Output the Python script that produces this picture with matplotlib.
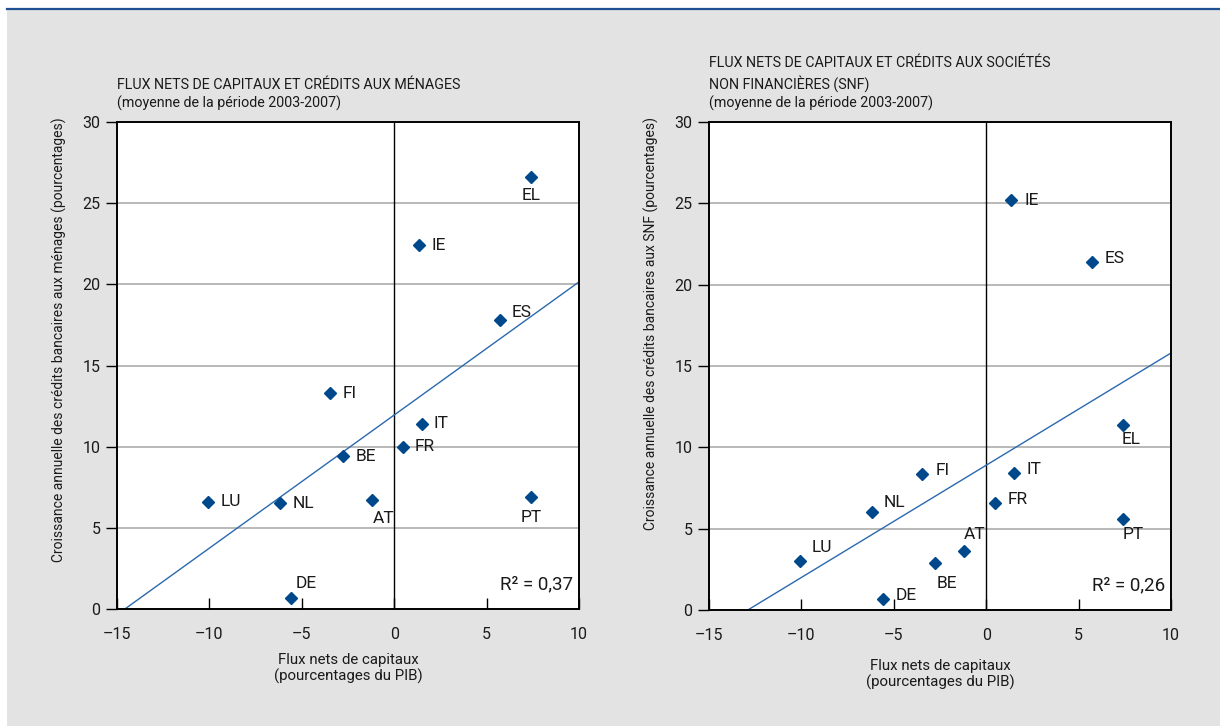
import numpy as np
import matplotlib.pyplot as plt
from matplotlib.patches import Rectangle
from matplotlib.lines import Line2D

plt.rcParams['font.family'] = ['Roboto', 'DejaVu Sans']

# Data
countries = ['LU', 'NL', 'DE', 'FI', 'BE', 'AT', 'FR', 'IE', 'IT', 'ES', 'EL', 'PT']
flux_nets = [-10.1, -6.2, -5.6, -3.45, -2.75, -1.2, 0.45, 1.35, 1.5, 5.7, 7.4, 7.4]
credit_menages = [6.6, 6.5, 0.7, 13.3, 9.4, 6.7, 10.0, 22.4, 11.4, 17.8, 26.6, 6.9]
credit_snf = [3.0, 6.0, 0.7, 8.35, 2.9, 3.6, 6.6, 25.2, 8.4, 21.4, 11.4, 5.6]

# fitted lines (intercept, slope) and R2 as shown
fit_menages = (11.95, 0.82)
fit_snf = (8.9, 0.69)
r2_menages = '0,37'
r2_snf = '0,26'

xticks = [-15, -10, -5, 0, 5, 10]
xtick_labels = ['–15', '–10', '–5', '0', '5', '10']
yticks = [0, 5, 10, 15, 20, 25, 30]

# label offsets in pixels (dx, dy, ha, va)
offs_menages = {
    'LU': (13, 0, 'left', 'center'), 'NL': (13, 0, 'left', 'center'),
    'DE': (5, 14, 'left', 'center'), 'FI': (12, 0, 'left', 'center'),
    'BE': (12, 0, 'left', 'center'), 'AT': (1, -18, 'left', 'center'),
    'FR': (12, 0, 'left', 'center'), 'IE': (12, 0, 'left', 'center'),
    'IT': (12, 0, 'left', 'center'), 'ES': (12, 8, 'left', 'center'),
    'EL': (0, -18, 'center', 'center'), 'PT': (0, -21, 'center', 'center'),
}
offs_snf = {
    'LU': (12, 14, 'left', 'center'), 'NL': (12, 10, 'left', 'center'),
    'DE': (13, 3, 'left', 'center'), 'FI': (13, 4, 'left', 'center'),
    'BE': (1, -21, 'left', 'center'), 'AT': (0, 17, 'left', 'center'),
    'FR': (13, 3, 'left', 'center'), 'IE': (13, 0, 'left', 'center'),
    'IT': (13, 4, 'left', 'center'), 'ES': (13, 3, 'left', 'center'),
    'EL': (-1, -15, 'left', 'center'), 'PT': (0, -16, 'left', 'center'),
}

blue = '#00488c'
line_blue = '#2a69ae'
txt = '#1a1a1a'

fig = plt.figure(figsize=(12.2, 7.26), dpi=100)
fig.patch.set_facecolor('white')
fig.patches.append(Rectangle((7 / 1220, 0), 1, 716 / 726, transform=fig.transFigure,
                             facecolor='#e3e3e3', edgecolor='none', zorder=-10))
fig.lines.append(Line2D([7 / 1220, 1], [717 / 726, 717 / 726], transform=fig.transFigure,
                        color='#1f5192', lw=1.6, zorder=-5))


def panel(rect, yvals, fit, r2, offs, title, ylabel, xpad):
    ax = fig.add_axes(rect)
    ax.set_facecolor('white')
    ax.set_xlim(-15, 10)
    ax.set_ylim(0, 30)
    for y in yticks[1:-1]:
        ax.axhline(y, color='#a6a6a6', lw=1.1, zorder=1)
    ax.axvline(0, color='black', lw=1.0, zorder=2)

    xs = np.array([-15, 10])
    ax.plot(xs, fit[0] + fit[1] * xs, color=line_blue, lw=1.0, zorder=3)
    ax.plot(flux_nets, yvals, 'D', color=blue, ms=6.5, mec=blue, zorder=4)
    for c, x, y in zip(countries, flux_nets, yvals):
        dx, dy, ha, va = offs[c]
        ax.annotate(c, (x, y), xytext=(dx, dy), textcoords='offset pixels',
                    ha=ha, va=va, fontsize=12.5, color=txt, zorder=5)

    ax.text(0.988, 0.05, 'R² = ' + r2, transform=ax.transAxes, ha='right', va='center',
            fontsize=13.5, color=txt)

    ax.set_xticks(xticks)
    ax.set_xticklabels(xtick_labels)
    ax.set_yticks(yticks)
    ax.tick_params(axis='x', direction='in', length=8, width=1, pad=13, labelsize=11.5,
                   labelcolor=txt)
    ax.tick_params(axis='y', direction='out', length=8, width=1, pad=4, labelsize=11.5,
                   labelcolor=txt)
    for s in ax.spines.values():
        s.set_linewidth(1.4)
        s.set_zorder(6)

    ax.set_xlabel('Flux nets de capitaux\n(pourcentages du PIB)', fontsize=10.8,
                  color=txt, labelpad=xpad, linespacing=1.13)
    ax.set_ylabel(ylabel, fontsize=10.0, color=txt, loc='top')
    ax.yaxis.set_label_coords(-0.108, 1.01)
    ax.text(0, 1.022, title, transform=ax.transAxes, ha='left', va='bottom',
            fontsize=10.3, color=txt, linespacing=1.35)
    return ax


panel([117 / 1220, 117 / 726, 462 / 1220, 487 / 726], credit_menages, fit_menages,
      r2_menages, offs_menages,
      'FLUX NETS DE CAPITAUX ET CRÉDITS AUX MÉNAGES\n(moyenne de la période 2003-2007)',
      'Croissance annuelle des crédits bancaires aux ménages (pourcentages)', 8)
panel([709 / 1220, 116 / 726, 462 / 1220, 488 / 726], credit_snf, fit_snf,
      r2_snf, offs_snf,
      'FLUX NETS DE CAPITAUX ET CRÉDITS AUX SOCIÉTÉS\nNON FINANCIÈRES (SNF)\n'
      '(moyenne de la période 2003-2007)',
      'Croissance annuelle des crédits bancaires aux SNF (pourcentages)', 11.5)

fig.savefig('out.png', dpi=100, facecolor=fig.get_facecolor())
